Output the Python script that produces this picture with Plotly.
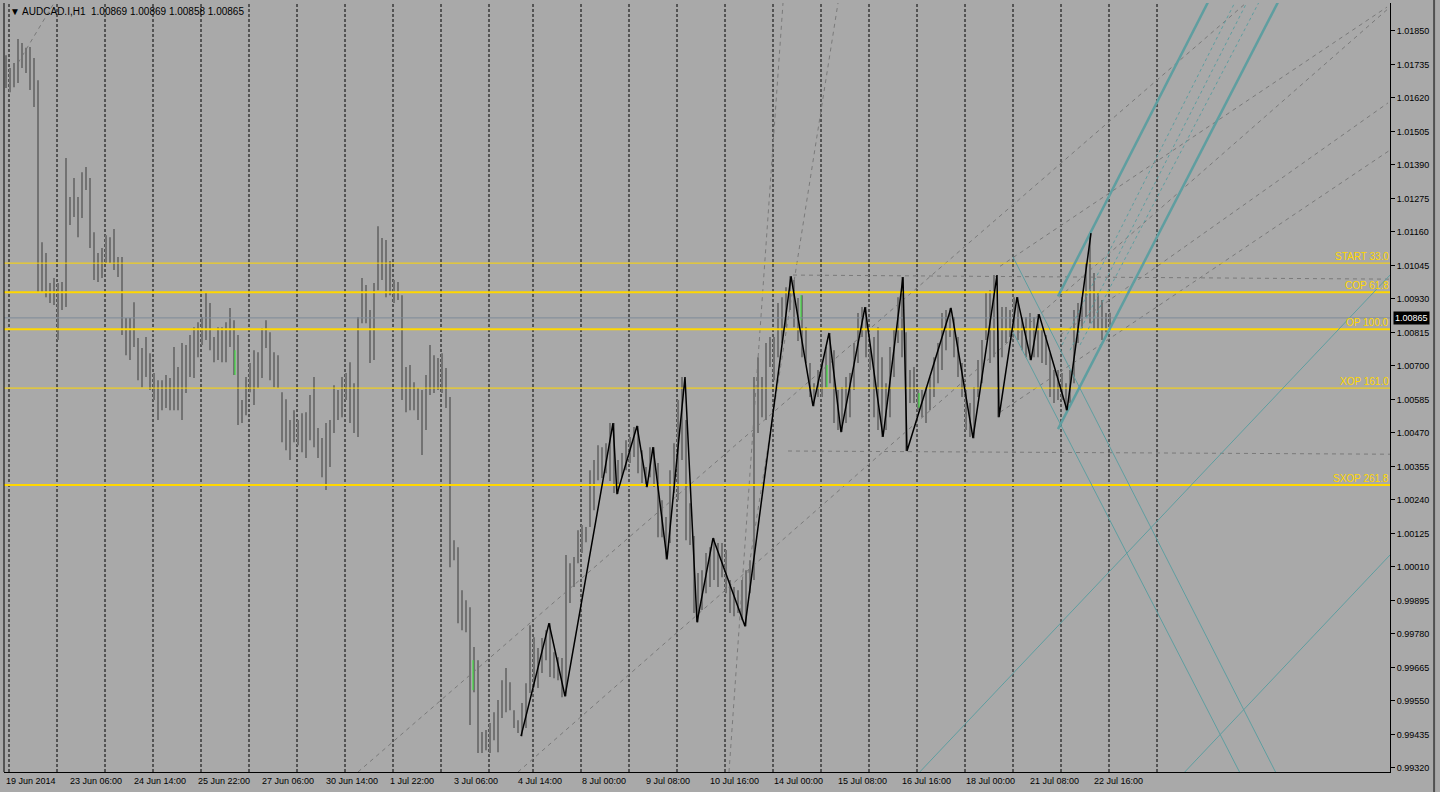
import plotly.graph_objects as go

# AUDCAD.I H1, 19 Jun 2014 22:00 onwards; each entry is the high/low of two hourly bars
bar_highs = [
    1.01767, 1.01723, 1.01740, 1.01822, 1.01809, 1.01792, 1.01795, 1.01757, 1.01681, 1.01125,
    1.01088, 1.00985, 1.01002, 1.00985, 1.00988, 1.01414, 1.01280, 1.01345, 1.01280, 1.01365,
    1.01383, 1.01345, 1.01159, 1.01088, 1.01105, 1.01149, 1.01142, 1.01170, 1.01074, 1.01074,
    1.00865, 1.00865, 1.00919, 1.00796, 1.00762, 1.00799, 1.00744, 1.00676, 1.00651, 1.00651,
    1.00669, 1.00659, 1.00765, 1.00696, 1.00779, 1.00772, 1.00806, 1.00833, 1.00850, 1.00868,
    1.00950, 1.00916, 1.00799, 1.00833, 1.00833, 1.00850, 1.00899, 1.00857, 1.00806, 1.00583,
    1.00662, 1.00710, 1.00754, 1.00747, 1.00830, 1.00857, 1.00816, 1.00747, 1.00737, 1.00610,
    1.00586, 1.00514, 1.00548, 1.00514, 1.00538, 1.00541, 1.00600, 1.00662, 1.00487, 1.00453,
    1.00504, 1.00514, 1.00634, 1.00617, 1.00662, 1.00676, 1.00713, 1.00641, 1.00868, 1.01002,
    1.00978, 1.00892, 1.00985, 1.01180, 1.01139, 1.01132, 1.01060, 1.00995, 1.00988, 1.00943,
    1.00696, 1.00703, 1.00644, 1.00624, 1.00617, 1.00669, 1.00772, 1.00737, 1.00727, 1.00744,
    1.00693, 1.00593, 1.00102, 1.00078, 0.99930, 0.99896, 0.99872, 0.99735, 0.99690, 0.99443,
    0.99450, 0.99474, 0.99511, 0.99553, 0.99621, 0.99663, 0.99614, 0.99518, 0.99484, 0.99543,
    0.99611, 0.99810, 0.99769, 0.99732, 0.99766, 0.99793, 0.99817, 0.99717, 0.99700, 0.99697,
    1.00051, 1.00023, 1.00044, 1.00136, 1.00154, 1.00147, 1.00342, 1.00377, 1.00428, 1.00421,
    1.00435, 1.00504, 1.00504, 1.00377, 1.00401, 1.00445, 1.00456, 1.00490, 1.00494, 1.00411,
    1.00353, 1.00421, 1.00421, 1.00367, 1.00239, 1.00181, 1.00342, 1.00435, 1.00583, 1.00662,
    1.00514, 1.00229, 1.00116, 0.99989, 0.99999, 1.00058, 1.00078, 1.00109, 1.00092, 1.00092,
    1.00068, 0.99965, 0.99941, 0.99930, 0.99965, 0.99999, 1.00033, 1.00662, 1.00730, 1.00662,
    1.00779, 1.00799, 1.00799, 1.00916, 1.00936, 1.00970, 1.01008, 1.00995, 1.00933, 1.00943,
    1.00833, 1.00710, 1.00641, 1.00686, 1.00720, 1.00765, 1.00813, 1.00754, 1.00617, 1.00627,
    1.00662, 1.00676, 1.00779, 1.00882, 1.00902, 1.00902, 1.00754, 1.00799, 1.00833, 1.00730,
    1.00641, 1.00765, 1.00823, 1.00936, 1.01005, 1.00816, 1.00686, 1.00696, 1.00617, 1.00617,
    1.00627, 1.00662, 1.00730, 1.00779, 1.00882, 1.00892, 1.00899, 1.00868, 1.00799, 1.00710,
    1.00617, 1.00573, 1.00627, 1.00720, 1.00789, 1.00950, 1.00960, 1.01012, 1.00823, 1.00902,
    1.00902, 1.00892, 1.00936, 1.00936, 1.00868, 1.00868, 1.00882, 1.00868, 1.00878, 1.00823,
    1.00806, 1.00744, 1.00686, 1.00686, 1.00676, 1.00641, 1.00686, 1.00892, 1.00916, 1.00936,
    1.01053, 1.01156, 1.01019, 1.00950, 1.00926, 1.00882, 1.00883,
]
bar_lows = [
    1.01654, 1.01640, 1.01657, 1.01671, 1.01723, 1.01706, 1.01647, 1.01589, 1.00953, 1.00953,
    1.00936, 1.00916, 1.00909, 1.00789, 1.00892, 1.00902, 1.01184, 1.01211, 1.01142, 1.01208,
    1.01304, 1.01105, 1.00995, 1.00988, 1.01002, 1.01053, 1.01053, 1.01029, 1.01005, 1.00806,
    1.00737, 1.00720, 1.00765, 1.00651, 1.00627, 1.00662, 1.00617, 1.00583, 1.00514, 1.00548,
    1.00556, 1.00548, 1.00548, 1.00548, 1.00514, 1.00607, 1.00662, 1.00659, 1.00730, 1.00772,
    1.00789, 1.00754, 1.00713, 1.00720, 1.00713, 1.00713, 1.00765, 1.00669, 1.00497, 1.00504,
    1.00531, 1.00610, 1.00566, 1.00624, 1.00659, 1.00762, 1.00651, 1.00627, 1.00624, 1.00438,
    1.00411, 1.00377, 1.00438, 1.00428, 1.00404, 1.00384, 1.00445, 1.00421, 1.00384, 1.00318,
    1.00274, 1.00353, 1.00470, 1.00514, 1.00524, 1.00583, 1.00504, 1.00470, 1.00456, 1.00847,
    1.00847, 1.00710, 1.00720, 1.00960, 1.00995, 1.00936, 1.00943, 1.00916, 1.00926, 1.00583,
    1.00541, 1.00548, 1.00548, 1.00514, 1.00394, 1.00480, 1.00600, 1.00607, 1.00617, 1.00607,
    1.00556, 1.00009, 1.00033, 0.99817, 0.99793, 0.99786, 0.99467, 0.99580, 0.99371, 0.99371,
    0.99381, 0.99371, 0.99415, 0.99374, 0.99491, 0.99511, 0.99518, 0.99457, 0.99440, 0.99429,
    0.99457, 0.99577, 0.99597, 0.99594, 0.99646, 0.99690, 0.99632, 0.99628, 0.99621, 0.99563,
    0.99566, 0.99886, 0.99941, 1.00023, 1.00058, 1.00095, 1.00147, 1.00205, 1.00308, 1.00315,
    1.00332, 1.00305, 1.00264, 1.00260, 1.00318, 1.00342, 1.00367, 1.00387, 1.00332, 1.00298,
    1.00284, 1.00318, 1.00284, 1.00112, 1.00112, 1.00036, 1.00092, 1.00264, 1.00239, 1.00377,
    1.00102, 1.00085, 0.99852, 0.99820, 0.99862, 0.99920, 0.99941, 0.99965, 0.99941, 0.99975,
    0.99920, 0.99852, 0.99841, 0.99852, 0.99827, 0.99806, 0.99920, 0.99965, 1.00470, 1.00524,
    1.00514, 1.00696, 1.00651, 1.00730, 1.00779, 1.00833, 1.00892, 1.00833, 1.00786, 1.00730,
    1.00710, 1.00593, 1.00562, 1.00593, 1.00593, 1.00627, 1.00641, 1.00504, 1.00480, 1.00473,
    1.00504, 1.00524, 1.00617, 1.00710, 1.00799, 1.00730, 1.00686, 1.00524, 1.00480, 1.00456,
    1.00480, 1.00524, 1.00662, 1.00779, 1.00730, 1.00408, 1.00573, 1.00573, 1.00548, 1.00524,
    1.00504, 1.00548, 1.00593, 1.00641, 1.00686, 1.00754, 1.00799, 1.00730, 1.00662, 1.00593,
    1.00480, 1.00456, 1.00452, 1.00593, 1.00641, 1.00789, 1.00710, 1.00730, 1.00524, 1.00730,
    1.00779, 1.00799, 1.00823, 1.00789, 1.00754, 1.00730, 1.00720, 1.00730, 1.00730, 1.00710,
    1.00703, 1.00593, 1.00573, 1.00583, 1.00583, 1.00548, 1.00573, 1.00641, 1.00779, 1.00823,
    1.00868, 1.00847, 1.00823, 1.00823, 1.00789, 1.00816, 1.00830,
]

# single hourly bars painted green on the chart
green_bars = [115, 234, 398, 411, 457]
green_highs = [1.00754, 0.99690, 1.00943, 1.00703, 1.00607]
green_lows = [1.00669, 0.99587, 1.00857, 1.00627, 1.00556]

# zigzag swing points (bar number, price)
zigzag_bars = [258, 272, 280, 304, 306, 316, 321, 324, 331, 340, 346, 354, 370, 393, 404,
               412, 418, 430, 439, 449, 451, 473, 484, 496, 497, 506, 513, 517, 531, 543]
zigzag_prices = [0.99429, 0.99817, 0.99566, 1.00504, 1.00260, 1.00494, 1.00284, 1.00421,
                 1.00036, 1.00662, 0.99820, 1.00109, 0.99806, 1.01008, 1.00562, 1.00813,
                 1.00473, 1.00902, 1.00456, 1.01005, 1.00408, 1.00899, 1.00452, 1.01012,
                 1.00524, 1.00936, 1.00720, 1.00878, 1.00548, 1.01156]

level_names = ['START 33.0', 'COP 61.8', 'OP 100.0', 'XOP 161.0', 'SXOP 261.8']
level_prices = [1.01053, 1.00953, 1.00826, 1.00624, 1.00291]

last_ohlc = [1.00869, 1.00869, 1.00858, 1.00865]

# trend lines as (bar0, price0, bar1, price1)
teal_thick = [(526.5, 1.00939, 601.5, 1.01949), (526.5, 1.00483, 636.5, 1.01949)]
teal_dashed = [(528.5, 1.00772, 615, 1.01949), (532.5, 1.00754, 621, 1.01949),
               (537.5, 1.00772, 627, 1.01949)]
teal_thin = [(504, 1.01074, 636, 0.99296), (504, 1.00816, 618, 0.99296),
             (456, 0.99296, 692.5, 1.01012), (588.5, 0.99296, 692.5, 1.00051)]
grey_dashed = [(6.5, 1.01740, 24.5, 1.01946), (176.5, 0.99306, 620.5, 1.01946),
               (256.5, 0.99306, 692.5, 1.01932), (497.5, 1.01042, 691, 1.01932),
               (527.5, 1.00806, 691.5, 1.01603), (497.5, 1.00541, 692.5, 1.01441),
               (362, 0.99306, 389, 1.01946), (371.5, 0.99989, 416.5, 1.01946),
               (394, 1.01012, 692.5, 1.00998), (391.5, 1.00408, 692.5, 1.00397)]

# day boundaries (bar numbers) and the time scale labels every 32 bars
day_starts = [2, 26, 50, 74, 98, 122, 146, 170, 194, 218, 242, 264, 288, 312, 336,
              360, 384, 408, 432, 456, 480, 504, 528, 552, 576]
time_labels = ['19 Jun 2014', '23 Jun 06:00', '24 Jun 14:00', '25 Jun 22:00', '27 Jun 06:00',
               '30 Jun 14:00', '1 Jul 22:00', '3 Jul 06:00', '4 Jul 14:00', '8 Jul 00:00',
               '9 Jul 08:00', '10 Jul 16:00', '14 Jul 00:00', '15 Jul 08:00', '16 Jul 16:00',
               '18 Jul 00:00', '21 Jul 08:00', '22 Jul 16:00']
price_ticks = [0.99320, 0.99435, 0.99550, 0.99665, 0.99780, 0.99895, 1.00010, 1.00125,
               1.00240, 1.00355, 1.00470, 1.00585, 1.00700, 1.00815, 1.00930, 1.01045,
               1.01160, 1.01275, 1.01390, 1.01505, 1.01620, 1.01735, 1.01850]

BG = '#A9A9A9'
TEAL = '#5F9EA0'
GOLD = '#FFD700'
FONT = 'Liberation Sans'


def segments(lines):
    xs, ys = [], []
    for x0, y0, x1, y1 in lines:
        xs += [x0, x1, None]
        ys += [y0, y1, None]
    return xs, ys


def add_lines(fig, lines, color, width, dash='solid'):
    xs, ys = segments(lines)
    fig.add_trace(go.Scatter(x=xs, y=ys, mode='lines', hoverinfo='skip',
                             line=dict(color=color, width=width, dash=dash)))


fig = go.Figure()

add_lines(fig, grey_dashed, '#7A7A7A', 1, '4px,4px')

bars = [(2 * g + 0.5, lo, 2 * g + 0.5, hi) for g, (hi, lo) in enumerate(zip(bar_highs, bar_lows))]
add_lines(fig, bars, '#727272', 2)
green = [(b, lo, b, hi) for b, hi, lo in zip(green_bars, green_highs, green_lows)]
add_lines(fig, green, '#33EE33', 1)

for name, price in zip(level_names, level_prices):
    thick = name in ('COP 61.8', 'OP 100.0', 'SXOP 261.8')
    add_lines(fig, [(-0.5, price, 692.5, price)], GOLD, 2 if thick else 1)
    fig.add_annotation(x=1, xref='paper', y=price, yref='y', text=name, showarrow=False,
                       xanchor='right', yanchor='bottom', yshift=0, borderpad=0,
                       font=dict(family=FONT, size=10, color=GOLD))

add_lines(fig, [(-0.5, last_ohlc[3], 692.5, last_ohlc[3])], '#7D8B98', 1)

add_lines(fig, teal_thin, TEAL, 1)
add_lines(fig, teal_dashed, TEAL, 1, '3px,3px')
add_lines(fig, teal_thick, TEAL, 2.5)

fig.add_trace(go.Scatter(x=zigzag_bars, y=zigzag_prices, mode='lines', hoverinfo='skip',
                         line=dict(color='black', width=1.5)))

for d in day_starts:
    fig.add_shape(type='line', xref='x', yref='paper', x0=d, x1=d, y0=0, y1=1,
                  line=dict(color='black', width=1, dash='3px,2px'), layer='below')

for k, label in enumerate(time_labels):
    fig.add_annotation(x=32 * k - 0.5, xref='x', y=0, yref='paper', text=label,
                       showarrow=False, xanchor='left', yanchor='top', yshift=-2,
                       font=dict(family=FONT, size=9, color='black'))

title = '\u25bc AUDCAD.I,H1\u00a0\u00a0' + ' '.join(f'{v:.5f}' for v in last_ohlc)
fig.add_annotation(x=0, xref='paper', y=1, yref='paper', text=title, showarrow=False,
                   xanchor='left', yanchor='top', xshift=4, yshift=-1,
                   font=dict(family=FONT, size=10, color='black'))

fig.add_annotation(x=1, xref='paper', y=last_ohlc[3], yref='y', text=f'{last_ohlc[3]:.5f}',
                   showarrow=False, xanchor='left', yanchor='middle', xshift=3,
                   bgcolor='black', borderpad=1, font=dict(family=FONT, size=9, color='white'))

fig.add_shape(type='line', xref='paper', yref='paper', x0=0, x1=0, y0=0, y1=1,
              line=dict(color='black', width=1))
fig.add_shape(type='line', xref='paper', yref='paper', x0=1.0318, x1=1.0318, y0=-0.03, y1=1.01,
              line=dict(color='#505050', width=2))

fig.update_layout(
    width=1440, height=792, autosize=False,
    margin=dict(l=4, r=50, t=3, b=20, pad=0),
    paper_bgcolor=BG, plot_bgcolor=BG, showlegend=False,
    font=dict(family=FONT, size=9, color='black'),
    xaxis=dict(range=[-0.5, 692.5], showgrid=False, zeroline=False, showticklabels=False,
               showline=True, linecolor='black', linewidth=1, ticks=''),
    yaxis=dict(range=[0.99306, 1.01946], side='right', tickvals=price_ticks, tickformat='.5f',
               ticks='outside', ticklen=4, tickcolor='black', showgrid=False, zeroline=False,
               showline=True, linecolor='black', linewidth=1,
               tickfont=dict(family=FONT, size=9, color='black')),
)

fig.write_html('out.html', config={'displayModeBar': False},
               post_script="document.body.style.margin='0px';")
